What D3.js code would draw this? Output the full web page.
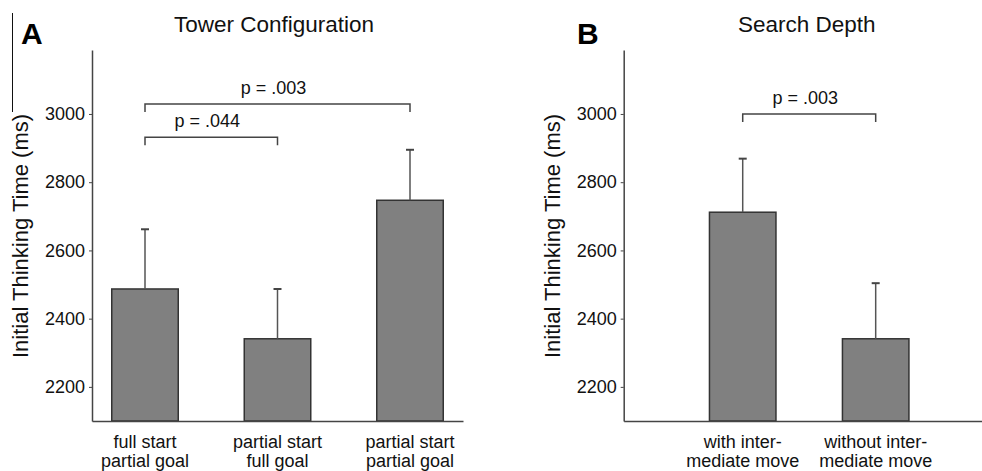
<!DOCTYPE html>
<html>
<head>
<meta charset="utf-8">
<script src="https://cdn.jsdelivr.net/npm/d3@7"></script>
<style>
  body { margin: 0; background: #fff; }
  svg { display: block; font-family: "Liberation Sans", Arial, sans-serif; }
</style>
</head>
<body>
<svg id="chart"></svg>
<script>
// data
const catsA = [["full start", "partial goal"], ["partial start", "full goal"], ["partial start", "partial goal"]];
const meansA = [2487, 2341, 2747];
const errA = [175, 146, 148];
const catsB = [["with inter-", "mediate move"], ["without inter-", "mediate move"]];
const meansB = [2712, 2341];
const errB = [157, 163];
const yTicks = [2200, 2400, 2600, 2800, 3000];
const bracketsA = [
    { from: 0, to: 1, y: 2932, label: "p = .044" },
    { from: 0, to: 2, y: 3029, label: "p = .003" }
];
const bracketsB = [
    { from: 0, to: 1, y: 3000, label: "p = .003" }
];

const width = 982;
const height = 471;

const svg = d3.select("#chart")
    .attr("width", width)
    .attr("height", height);

// shared y scale
const y = d3.scaleLinear()
    .domain([2100, 3187.5])
    .range([421, 50]);

const barW = 66.5;

function drawPanel(opts) {
    const g = svg.append("g");
    const cats = opts.cats.map((d, i) => i);

    const x = d3.scalePoint()
        .domain(cats)
        .range(opts.xRange)
        .padding(opts.pad);

    // y axis
    const yAxis = g.append("g")
        .attr("transform", `translate(${opts.xRange[0]},0)`)
        .call(d3.axisLeft(y).tickValues(yTicks).tickFormat(d3.format("d"))
            .tickSize(3).tickSizeOuter(0).tickPadding(4));
    yAxis.select(".domain").attr("stroke", "#444").attr("stroke-width", 1.5);
    yAxis.selectAll(".tick line").attr("stroke", "#444");
    yAxis.selectAll(".tick text")
        .attr("font-size", 18)
        .attr("fill", "#111")
        .style("font-family", "Liberation Sans, Arial, sans-serif");

    // bars
    g.append("g")
        .selectAll("rect")
        .data(opts.means)
        .enter().append("rect")
        .attr("x", (d, i) => x(i) - barW / 2)
        .attr("y", d => y(d))
        .attr("width", barW)
        .attr("height", d => y(2100) - y(d))
        .attr("fill", "#808080")
        .attr("stroke", "#333")
        .attr("stroke-width", 1.5);

    // error bars (upper only)
    const eb = g.append("g")
        .selectAll("g")
        .data(opts.means)
        .enter().append("g");
    eb.append("line")
        .attr("x1", (d, i) => x(i))
        .attr("x2", (d, i) => x(i))
        .attr("y1", d => y(d))
        .attr("y2", (d, i) => y(d + opts.err[i]))
        .attr("stroke", "#555")
        .attr("stroke-width", 1.5);
    eb.append("line")
        .attr("x1", (d, i) => x(i) - 4)
        .attr("x2", (d, i) => x(i) + 4)
        .attr("y1", (d, i) => y(d + opts.err[i]))
        .attr("y2", (d, i) => y(d + opts.err[i]))
        .attr("stroke", "#444")
        .attr("stroke-width", 2);

    // x axis line
    const xAxis = g.append("g")
        .attr("transform", `translate(0,${y(2100)})`)
        .call(d3.axisBottom(x).tickSize(0).tickFormat(""));
    xAxis.select(".domain").attr("stroke", "#444").attr("stroke-width", 1.5);

    // category labels, two lines each
    const labels = g.append("g")
        .selectAll("text")
        .data(opts.cats)
        .enter().append("text")
        .attr("text-anchor", "middle")
        .attr("font-size", 18)
        .attr("fill", "#111");
    labels.selectAll("tspan")
        .data((d, i) => d.map(t => ({ t: t, i: i })))
        .enter().append("tspan")
        .attr("x", d => x(d.i))
        .attr("y", (d, j) => 448 + j * 19)
        .text(d => d.t);

    // significance brackets
    const br = g.append("g")
        .selectAll("g")
        .data(opts.brackets)
        .enter().append("g");
    br.append("path")
        .attr("d", d => {
            const x1 = x(d.from), x2 = x(d.to), yy = y(d.y);
            return `M${x1},${yy + 8}V${yy}H${x2}V${yy + 8}`;
        })
        .attr("fill", "none")
        .attr("stroke", "#444")
        .attr("stroke-width", 1.5);
    br.append("text")
        .attr("x", d => (x(d.from) + x(d.to)) / 2 - 4)
        .attr("y", d => y(d.y) - 10)
        .attr("text-anchor", "middle")
        .attr("font-size", 18)
        .attr("fill", "#111")
        .text(d => d.label);

    // titles
    g.append("text")
        .attr("x", opts.titleX)
        .attr("y", 31.5)
        .attr("text-anchor", "middle")
        .attr("font-size", 22.5)
        .attr("fill", "#111")
        .text(opts.title);

    g.append("text")
        .attr("x", opts.letterX)
        .attr("y", 44)
        .attr("font-size", 30)
        .attr("font-weight", "bold")
        .attr("fill", "#000")
        .text(opts.letter);

    g.append("text")
        .attr("transform", `translate(${opts.yTitleX},236) rotate(-90)`)
        .attr("text-anchor", "middle")
        .attr("font-size", 22)
        .attr("fill", "#111")
        .text("Initial Thinking Time (ms)");
}

drawPanel({
    cats: catsA, means: meansA, err: errA, brackets: bracketsA,
    xRange: [92, 463], pad: 0.4,
    title: "Tower Configuration", titleX: 274,
    letter: "A", letterX: 21, yTitleX: 28
});

drawPanel({
    cats: catsB, means: meansB, err: errB, brackets: bracketsB,
    xRange: [623.7, 994.7], pad: 0.895,
    title: "Search Depth", titleX: 806.7,
    letter: "B", letterX: 577, yTitleX: 560
});

// thin frame edge visible at left of panel A
svg.append("line")
    .attr("x1", 12.5).attr("x2", 12.5)
    .attr("y1", 13).attr("y2", 112)
    .attr("stroke", "#111")
    .attr("stroke-width", 1);
</script>
</body>
</html>
